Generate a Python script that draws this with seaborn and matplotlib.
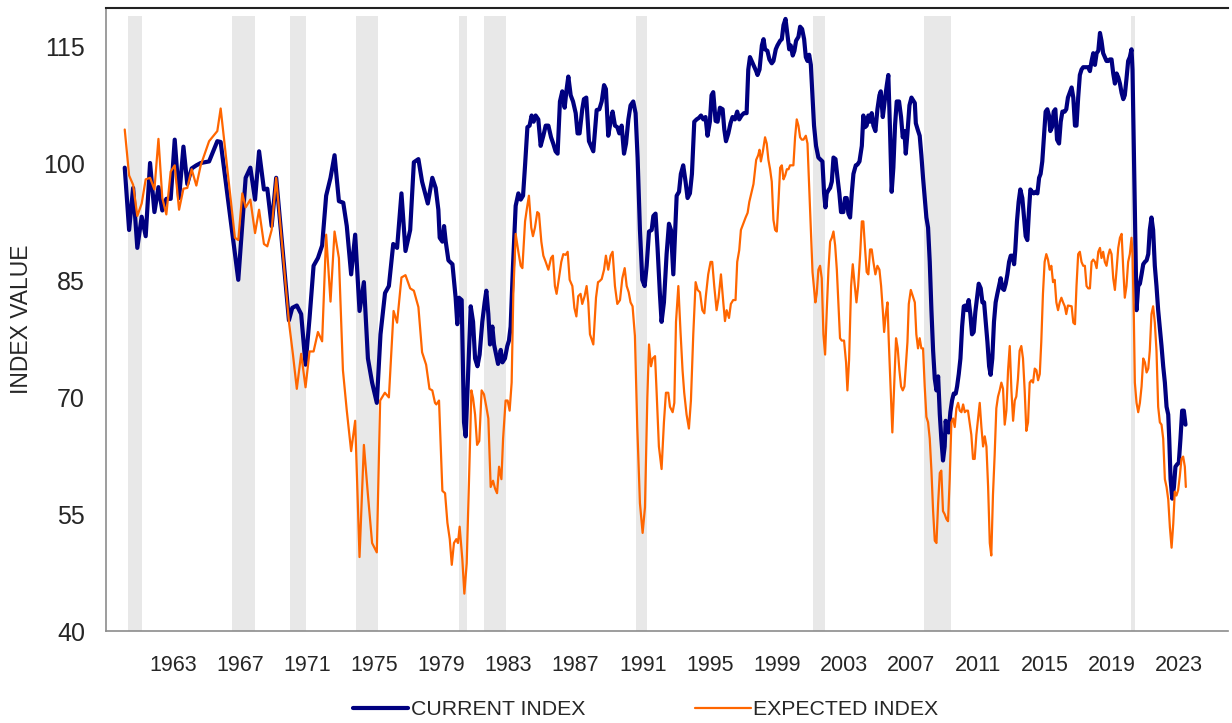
import matplotlib
matplotlib.use("Agg")
import matplotlib.pyplot as plt
import pandas as pd
import seaborn as sns

# values (decimal year, index value)
current_years = [
    1960.12, 1960.38, 1960.62, 1960.87, 1961.13, 1961.37, 1961.63, 1961.89, 1962.13, 1962.36,
    1962.60, 1962.86, 1963.10, 1963.36, 1963.62, 1963.85, 1964.11, 1964.39, 1964.65, 1965.15,
    1965.64, 1965.84, 1966.89, 1967.33, 1967.61, 1967.89, 1968.13, 1968.42, 1968.62, 1968.88,
    1969.15, 1969.91, 1970.11, 1970.38, 1970.64, 1970.90, 1971.14, 1971.38, 1971.64, 1971.89,
    1972.13, 1972.39, 1972.63, 1972.89, 1973.15, 1973.36, 1973.62, 1973.86, 1974.12, 1974.38,
    1974.62, 1974.87, 1975.15, 1975.37, 1975.64, 1975.87, 1976.13, 1976.36, 1976.62, 1976.86,
    1977.14, 1977.36, 1977.63, 1977.85, 1978.19,
    1978.46, 1978.66, 1978.82, 1978.90, 1979.06, 1979.16, 1979.26, 1979.42, 1979.66, 1979.85,
    1979.95, 1980.05, 1980.21, 1980.35, 1980.45, 1980.61, 1980.75, 1980.89, 1981.01, 1981.15,
    1981.28, 1981.44, 1981.58, 1981.68, 1981.80, 1981.90, 1982.04, 1982.14, 1982.28, 1982.38,
    1982.54, 1982.64, 1982.79, 1982.93, 1983.03, 1983.13, 1983.27, 1983.43, 1983.59, 1983.73,
    1983.87, 1983.99, 1984.13, 1984.26, 1984.38, 1984.50, 1984.62, 1984.78, 1984.92, 1985.08,
    1985.22, 1985.38, 1985.54, 1985.67, 1985.81, 1985.93, 1986.07, 1986.21, 1986.35, 1986.47,
    1986.57, 1986.71, 1986.85, 1987.01, 1987.12, 1987.24, 1987.40, 1987.50, 1987.64, 1987.80,
    1988.06, 1988.26, 1988.42, 1988.56, 1988.70, 1988.81, 1988.95, 1989.09, 1989.21, 1989.35,
    1989.49, 1989.61, 1989.75, 1989.89, 1990.01, 1990.15, 1990.28, 1990.44, 1990.58, 1990.70,
    1990.84, 1990.98, 1991.12, 1991.24, 1991.38, 1991.54, 1991.64, 1991.77, 1991.89, 1992.03,
    1992.13, 1992.27, 1992.43, 1992.57, 1992.69, 1992.83, 1992.95, 1993.03, 1993.17, 1993.28,
    1993.42, 1993.56, 1993.68, 1993.82, 1993.94, 1994.08, 1994.22, 1994.36, 1994.48, 1994.62,
    1994.75, 1994.87, 1995.01, 1995.11, 1995.21, 1995.35, 1995.47, 1995.61, 1995.77, 1995.87,
    1995.97, 1996.11, 1996.24, 1996.36, 1996.50, 1996.64, 1996.76, 1996.90, 1997.04, 1997.20,
    1997.30, 1997.40,
    1997.77, 1997.85, 1997.97, 1998.11, 1998.21, 1998.30, 1998.44, 1998.56, 1998.70, 1998.80,
    1998.94, 1999.04, 1999.20, 1999.30, 1999.40, 1999.52, 1999.64, 1999.74, 1999.83, 1999.95,
    2000.05, 2000.15, 2000.29, 2000.39, 2000.51, 2000.63, 2000.73, 2000.83, 2000.93, 2001.03,
    2001.13, 2001.22, 2001.34, 2001.48, 2001.62, 2001.72, 2001.82, 2001.90, 2001.98, 2002.08,
    2002.18, 2002.28, 2002.38, 2002.50, 2002.62, 2002.73, 2002.83, 2002.97, 2003.07, 2003.17,
    2003.27, 2003.37, 2003.47, 2003.57, 2003.71, 2003.81, 2003.93, 2004.07, 2004.16, 2004.26,
    2004.36, 2004.46, 2004.56, 2004.66, 2004.76, 2004.88, 2005.00, 2005.12, 2005.20, 2005.32,
    2005.46, 2005.56, 2005.65, 2005.75, 2005.85, 2005.95, 2006.05, 2006.15, 2006.29, 2006.41,
    2006.51, 2006.61, 2006.69, 2006.79, 2006.91, 2007.03,
    2007.23, 2007.29, 2007.40, 2007.52, 2007.62, 2007.72, 2007.82, 2007.92, 2008.02, 2008.12,
    2008.22, 2008.32, 2008.42, 2008.52, 2008.62, 2008.72, 2008.81, 2008.91, 2009.01, 2009.07,
    2009.15, 2009.25, 2009.35, 2009.45, 2009.55, 2009.67, 2009.75, 2009.85, 2009.95, 2010.05,
    2010.15, 2010.25, 2010.34, 2010.44, 2010.54, 2010.64, 2010.74, 2010.84, 2010.94, 2011.04,
    2011.16, 2011.26, 2011.36, 2011.46, 2011.56, 2011.66, 2011.75, 2011.85, 2011.95, 2012.05,
    2012.15, 2012.25, 2012.35, 2012.45, 2012.55, 2012.65, 2012.75, 2012.85, 2012.95, 2013.05,
    2013.15, 2013.22, 2013.32, 2013.42, 2013.52, 2013.64, 2013.74, 2013.84, 2013.94, 2014.04,
    2014.12, 2014.22, 2014.32, 2014.44, 2014.54, 2014.64, 2014.73, 2014.83, 2014.93, 2015.03,
    2015.13, 2015.23, 2015.31, 2015.41, 2015.51, 2015.61, 2015.71, 2015.83, 2015.93, 2016.03,
    2016.17, 2016.26, 2016.36,
    2016.58, 2016.68, 2016.78, 2016.87, 2016.97, 2017.07, 2017.17, 2017.27, 2017.41, 2017.57,
    2017.67, 2017.77, 2017.87, 2017.97, 2018.07, 2018.17, 2018.27, 2018.36, 2018.46, 2018.56,
    2018.66, 2018.76, 2018.86, 2018.96, 2019.06, 2019.16, 2019.26, 2019.36, 2019.46, 2019.56,
    2019.66, 2019.75, 2019.85, 2019.95, 2020.05, 2020.15, 2020.21, 2020.45, 2020.55, 2020.65,
    2020.75, 2020.85, 2020.95, 2021.05, 2021.15, 2021.24, 2021.34, 2021.44, 2021.54, 2021.64,
    2021.74, 2021.84, 2021.94, 2022.04, 2022.14, 2022.24, 2022.34, 2022.40, 2022.48, 2022.58,
    2022.68, 2022.77, 2022.87, 2022.97, 2023.07, 2023.17, 2023.27, 2023.37,
]
current_values = [
    99.5, 91.5, 96.9, 89.2, 93.2, 90.7, 100.1, 93.8, 97.0, 94.0,
    95.5, 95.5, 103.1, 95.6, 102.2, 97.4, 99.4, 99.8, 100.1, 100.3,
    102.9, 102.8, 85.1, 98.2, 99.5, 95.4, 101.6, 96.7, 96.8, 92.0,
    98.2, 79.9, 81.5, 81.8, 80.7, 74.2, 80.2, 86.9, 87.9, 89.5,
    95.9, 98.2, 101.1, 95.2, 95.0, 92.0, 85.8, 90.9, 81.1, 84.8,
    75.0, 71.9, 69.3, 78.1, 83.4, 84.3, 89.7, 89.2, 96.2, 88.8,
    91.5, 100.2, 100.6, 97.7, 94.9,
    98.2, 96.9, 94.1, 90.5, 90.0, 92.0, 90.0, 87.6, 87.1, 82.8,
    79.4, 82.8, 82.5, 66.8, 65.0, 74.0, 81.7, 79.7, 75.0, 74.0,
    75.5, 79.7, 82.2, 83.7, 80.7, 76.8, 79.1, 76.8, 75.3, 74.3,
    76.1, 74.5, 75.0, 76.6, 77.3, 79.1, 86.9, 94.6, 96.2, 95.4,
    95.9, 99.8, 104.7, 104.9, 106.2, 105.4, 106.2, 105.7, 102.3, 103.6,
    104.9, 104.9, 103.4, 102.6, 101.6, 101.3, 108.0, 109.3, 107.2, 109.6,
    111.2, 108.8, 108.0, 106.5, 103.9, 103.9, 107.0, 108.3, 108.5, 102.9,
    101.6, 106.9, 107.0, 108.0, 110.1, 109.6, 103.6, 105.4, 106.7, 104.9,
    104.7, 103.9, 104.9, 101.3, 102.6, 105.7, 107.5, 108.0, 106.5, 100.8,
    91.5, 85.1, 84.3, 86.9, 91.3, 91.5, 93.3, 93.6, 89.2, 83.3,
    79.7, 82.2, 88.4, 92.3, 91.5, 85.8, 92.0, 95.9, 96.4, 98.7,
    99.8, 97.7, 95.6, 96.2, 98.7, 105.4, 105.7, 105.9, 106.2, 105.7,
    106.0, 103.6, 105.4, 108.8, 109.2, 105.5, 105.4, 107.2, 107.0, 104.4,
    102.9, 103.9, 105.2, 106.0, 105.7, 106.7, 105.7, 106.2, 106.5, 106.5,
    112.1, 113.7,
    111.9, 111.4, 112.1, 115.2, 116.0, 114.7, 114.5, 113.4, 112.9, 113.2,
    114.7, 115.2, 115.8, 116.0, 117.8, 118.6, 116.5, 114.7, 115.2, 113.9,
    114.5, 115.8, 116.3, 117.6, 117.3, 116.0, 113.7, 113.2, 114.0, 112.7,
    108.5, 104.9, 102.3, 100.8, 100.5, 100.3, 96.2, 94.4, 96.2, 96.6,
    96.9, 97.7, 100.8, 100.6, 98.2, 96.2, 93.8, 93.8, 95.6, 95.6,
    93.6, 93.1, 96.2, 98.7, 99.8, 99.9, 100.3, 102.3, 106.2, 104.7,
    104.9, 106.2, 105.4, 106.5, 104.9, 104.2, 107.0, 108.8, 109.3, 106.0,
    108.5, 110.1, 111.4, 104.4, 96.4, 99.5, 104.9, 108.0, 108.0, 106.0,
    103.4, 104.2, 101.3, 103.9, 107.5, 108.5,
    107.8, 105.2, 104.4, 103.6, 101.1, 98.2, 95.6, 93.1, 91.8, 87.4,
    81.2, 76.0, 72.4, 70.9, 72.7, 67.8, 64.7, 61.9, 63.7, 67.0,
    65.7, 65.5, 68.1, 69.6, 70.5, 70.5, 71.4, 73.0, 75.0, 79.1,
    81.7, 81.8, 81.2, 82.5, 80.7, 78.1, 78.4, 81.0, 82.8, 84.6,
    84.0, 82.2, 82.2, 79.7, 77.1, 74.0, 72.9, 75.0, 79.7, 82.2,
    83.3, 84.3, 85.3, 84.0, 83.8, 84.6, 85.8, 87.4, 88.2, 88.2,
    87.1, 88.9, 92.6, 95.1, 96.7, 95.6, 93.1, 90.7, 90.2, 94.1,
    96.7, 96.4, 96.2, 96.4, 96.2, 98.2, 98.7, 100.3, 103.4, 106.7,
    107.0, 106.2, 104.2, 104.7, 106.7, 107.0, 103.1, 102.6, 105.4, 106.7,
    106.7, 107.0, 108.5,
    109.8, 108.5, 104.9, 104.9, 108.5, 111.4, 112.1, 112.4, 112.4, 112.4,
    111.9, 113.2, 114.2, 112.7, 114.2, 114.5, 116.8, 115.8, 114.2, 113.7,
    113.2, 113.2, 113.4, 113.4, 111.6, 110.3, 111.6, 111.1, 110.3, 109.1,
    108.3, 108.8, 110.9, 113.2, 113.7, 114.7, 112.1, 81.2, 84.3, 84.6,
    85.8, 87.1, 87.4, 87.6, 88.4, 91.5, 93.1, 91.5, 86.9, 84.3,
    81.2, 78.9, 76.6, 74.0, 71.9, 68.8, 67.8, 64.7, 59.5, 57.0,
    58.5, 61.1, 61.4, 61.6, 64.7, 68.3, 68.3, 66.5,
]

expected_years = [
    1960.12, 1960.38, 1960.62, 1960.87, 1961.13, 1961.37, 1961.63, 1961.89, 1962.13, 1962.36,
    1962.60, 1962.86, 1963.10, 1963.36, 1963.62, 1963.85, 1964.11, 1964.39, 1964.65, 1965.15,
    1965.64, 1965.84, 1966.69, 1966.89, 1967.13, 1967.33, 1967.61, 1967.89, 1968.13, 1968.42,
    1968.62, 1968.88,
    1969.15, 1969.91, 1970.15, 1970.38, 1970.64, 1970.90, 1971.14, 1971.38, 1971.64, 1971.89,
    1972.13, 1972.39, 1972.63, 1972.89, 1973.13, 1973.36, 1973.62, 1973.86, 1974.12, 1974.38,
    1974.62, 1974.87, 1975.15, 1975.35, 1975.63, 1975.87, 1976.15, 1976.36, 1976.62, 1976.86,
    1977.14, 1977.36, 1977.63, 1977.85, 1978.09, 1978.29,
    1978.46, 1978.62, 1978.70, 1978.86, 1979.06, 1979.22, 1979.36, 1979.50, 1979.62, 1979.75,
    1979.89, 1979.99, 1980.09, 1980.25, 1980.37, 1980.51, 1980.65, 1980.79, 1980.89, 1981.01,
    1981.13, 1981.26, 1981.40, 1981.54, 1981.68, 1981.80, 1981.94, 1982.08, 1982.20, 1982.32,
    1982.44, 1982.58, 1982.68, 1982.83, 1982.95, 1983.07, 1983.19, 1983.29, 1983.43, 1983.59,
    1983.73, 1983.83, 1983.99, 1984.11, 1984.22, 1984.36, 1984.46, 1984.58, 1984.72, 1984.82,
    1984.96, 1985.08, 1985.22, 1985.38, 1985.54, 1985.65, 1985.77, 1985.87, 1986.01, 1986.15,
    1986.27, 1986.41, 1986.53, 1986.65, 1986.81, 1986.93, 1987.05, 1987.16, 1987.30, 1987.40,
    1987.54, 1987.66, 1987.76, 1987.86,
    1988.06, 1988.22, 1988.34, 1988.42, 1988.56, 1988.70, 1988.81, 1988.95, 1989.09, 1989.21,
    1989.35, 1989.49, 1989.65, 1989.79, 1989.93, 1990.05, 1990.17, 1990.28, 1990.40, 1990.54,
    1990.68, 1990.84, 1991.00, 1991.14, 1991.28, 1991.38, 1991.50, 1991.60, 1991.74, 1991.83,
    1991.97, 1992.13, 1992.27, 1992.39, 1992.53, 1992.63, 1992.79, 1992.89, 1992.99, 1993.13,
    1993.26, 1993.38, 1993.48, 1993.62, 1993.76, 1993.88, 1994.02, 1994.16, 1994.28, 1994.42,
    1994.56, 1994.68, 1994.77, 1994.91, 1995.05, 1995.15, 1995.27, 1995.41, 1995.53, 1995.67,
    1995.81, 1995.91, 1996.01, 1996.15, 1996.26, 1996.40, 1996.54, 1996.64, 1996.76, 1996.86,
    1997.00, 1997.14, 1997.26, 1997.36,
    1997.61, 1997.77, 1997.89, 1997.97, 1998.05, 1998.17, 1998.30, 1998.40, 1998.50, 1998.60,
    1998.70, 1998.80, 1998.90, 1999.00, 1999.10, 1999.20, 1999.30, 1999.40, 1999.50, 1999.60,
    1999.70, 1999.79, 1999.99, 2000.09, 2000.19, 2000.29, 2000.39, 2000.49, 2000.59, 2000.73,
    2000.83, 2000.93, 2001.03, 2001.13, 2001.22, 2001.30, 2001.38, 2001.48, 2001.58, 2001.68,
    2001.78, 2001.88, 2001.98, 2002.08, 2002.18, 2002.28, 2002.38, 2002.48, 2002.58, 2002.67,
    2002.77, 2002.87, 2003.01, 2003.13, 2003.21, 2003.31, 2003.43, 2003.53, 2003.63, 2003.75,
    2003.85, 2003.97, 2004.07, 2004.16, 2004.26, 2004.36, 2004.46, 2004.56, 2004.66, 2004.76,
    2004.88, 2005.00, 2005.12, 2005.22, 2005.32, 2005.40, 2005.50, 2005.60, 2005.67, 2005.79,
    2005.89, 2005.99, 2006.11, 2006.21, 2006.31, 2006.41, 2006.51, 2006.61, 2006.71, 2006.79,
    2006.87, 2006.99,
    2007.23, 2007.32, 2007.42, 2007.52, 2007.62, 2007.72, 2007.82, 2007.92, 2008.02, 2008.12,
    2008.22, 2008.32, 2008.42, 2008.52, 2008.62, 2008.72, 2008.81, 2008.91, 2009.01, 2009.11,
    2009.21, 2009.31, 2009.41, 2009.51, 2009.61, 2009.71, 2009.81, 2009.91, 2010.01, 2010.11,
    2010.21, 2010.30, 2010.40, 2010.50, 2010.60, 2010.70, 2010.80, 2010.90, 2011.00, 2011.10,
    2011.20, 2011.30, 2011.40, 2011.50, 2011.60, 2011.70, 2011.79, 2011.89, 2011.99, 2012.09,
    2012.19, 2012.29, 2012.39, 2012.49, 2012.59, 2012.69, 2012.79, 2012.89, 2012.99, 2013.09,
    2013.19, 2013.28, 2013.38, 2013.48, 2013.58, 2013.68, 2013.78, 2013.88, 2013.98, 2014.08,
    2014.18, 2014.28, 2014.38, 2014.48, 2014.58, 2014.68, 2014.77, 2014.87, 2014.97, 2015.07,
    2015.17, 2015.27, 2015.37, 2015.47, 2015.57, 2015.67, 2015.77, 2015.87, 2015.97, 2016.07,
    2016.17, 2016.26, 2016.36,
    2016.58, 2016.68, 2016.78, 2016.87, 2016.97, 2017.07, 2017.17, 2017.27, 2017.37, 2017.47,
    2017.57, 2017.67, 2017.77, 2017.87, 2017.97, 2018.07, 2018.17, 2018.27, 2018.36, 2018.46,
    2018.56, 2018.66, 2018.76, 2018.86, 2018.96, 2019.06, 2019.16, 2019.26, 2019.36, 2019.46,
    2019.56, 2019.66, 2019.75, 2019.85, 2019.95, 2020.05, 2020.15, 2020.21, 2020.29, 2020.35,
    2020.45, 2020.55, 2020.65, 2020.75, 2020.85, 2020.95, 2021.05, 2021.15, 2021.24, 2021.34,
    2021.44, 2021.54, 2021.64, 2021.74, 2021.84, 2021.94, 2022.04, 2022.14, 2022.24, 2022.34,
    2022.44, 2022.54, 2022.64, 2022.73, 2022.83, 2022.93, 2023.03, 2023.13, 2023.23, 2023.33,
    2023.39,
]
expected_values = [
    104.4, 98.5, 97.3, 93.3, 94.9, 98.0, 98.2, 96.7, 103.2, 95.6,
    93.5, 99.0, 99.8, 94.1, 96.8, 96.9, 99.3, 97.2, 99.8, 102.9,
    104.2, 107.1, 90.5, 90.2, 96.2, 94.4, 95.4, 91.1, 94.1, 89.7,
    89.4, 91.5,
    98.2, 79.7, 75.5, 71.1, 75.6, 71.3, 75.9, 75.9, 78.4, 77.2,
    90.9, 82.3, 91.3, 87.9, 73.5, 68.3, 63.1, 67.0, 49.5, 63.9,
    57.5, 51.3, 50.1, 69.6, 70.6, 70.0, 81.1, 79.6, 85.4, 85.7,
    84.0, 83.7, 81.6, 75.8, 74.2, 71.1,
    70.9, 69.3, 69.1, 69.6, 58.0, 57.7, 53.9, 51.8, 48.5, 51.3,
    51.8, 51.3, 53.4, 49.2, 44.8, 48.7, 59.5, 70.9, 69.9, 67.8,
    63.9, 64.4, 70.9, 70.4, 68.8, 67.3, 58.5, 59.3, 58.3, 57.7,
    61.1, 59.5, 64.7, 69.6, 69.6, 68.3, 71.9, 83.3, 91.0, 88.7,
    86.9, 86.6, 92.6, 94.4, 95.9, 91.8, 90.7, 91.8, 93.8, 93.6,
    90.0, 88.2, 87.4, 86.4, 87.9, 88.2, 84.3, 83.3, 85.3, 87.4,
    88.4, 88.3, 88.7, 85.1, 84.3, 81.5, 80.4, 83.0, 83.3, 82.0,
    83.0, 84.3, 82.2, 78.1,
    76.8, 82.8, 84.8, 84.9, 85.2, 86.4, 88.2, 86.4, 88.2, 88.7,
    84.3, 82.0, 82.5, 85.3, 86.6, 84.3, 83.5, 82.2, 81.7, 77.9,
    66.2, 56.4, 52.6, 55.9, 69.9, 76.8, 74.0, 75.0, 75.3, 70.9,
    63.7, 60.8, 66.8, 70.6, 70.6, 68.8, 68.1, 69.3, 79.7, 84.3,
    78.4, 73.5, 70.6, 67.8, 66.0, 69.6, 78.1, 84.8, 83.8, 83.5,
    81.2, 80.8, 83.0, 85.8, 87.4, 87.4, 84.3, 81.2, 82.8, 85.8,
    82.2, 79.8, 81.2, 80.2, 82.0, 82.5, 82.5, 87.4, 88.9, 91.5,
    92.3, 93.1, 93.7, 95.1,
    97.4, 100.5, 101.1, 101.8, 100.3, 101.6, 103.4, 102.6, 100.5, 99.3,
    97.7, 92.8, 91.5, 91.3, 95.1, 99.5, 99.8, 98.0, 98.5, 99.3,
    99.3, 99.8, 99.8, 103.4, 105.7, 104.9, 103.4, 103.1, 103.1, 103.6,
    102.6, 97.2, 92.0, 86.1, 84.0, 82.2, 83.3, 86.4, 86.9, 85.3,
    78.1, 75.5, 81.2, 86.4, 90.0, 90.5, 91.3, 89.5, 86.4, 82.2,
    77.6, 77.3, 77.3, 74.5, 70.9, 74.8, 84.3, 87.1, 84.8, 82.2,
    84.3, 88.4, 92.6, 92.6, 89.2, 86.1, 85.8, 89.0, 89.0, 87.4,
    85.8, 86.9, 86.4, 84.3, 81.2, 78.4, 80.7, 82.2, 77.6, 70.9,
    65.5, 70.9, 77.6, 76.3, 73.5, 71.4, 70.9, 71.4, 74.5, 77.1,
    82.0, 83.8,
    82.2, 78.1, 76.3, 77.6, 76.3, 76.3, 71.4, 67.5, 66.8, 64.7,
    60.6, 55.4, 51.6, 51.3, 56.4, 60.3, 60.6, 55.4, 55.0, 54.4,
    54.1, 59.5, 66.8, 67.3, 66.2, 68.6, 69.3, 68.3, 68.1, 69.1,
    68.1, 68.3, 68.3, 66.8, 65.2, 62.1, 62.1, 65.2, 67.3, 69.3,
    66.2, 63.7, 65.0, 63.7, 58.5, 51.3, 49.7, 57.5, 62.6, 68.6,
    70.1, 70.9, 71.9, 71.1, 66.5, 68.3, 73.5, 76.6, 70.9, 67.0,
    69.6, 70.1, 72.4, 76.0, 76.6, 75.0, 70.9, 65.7, 66.8, 71.9,
    72.2, 71.9, 73.7, 73.5, 72.2, 73.0, 77.1, 83.3, 87.4, 88.4,
    87.7, 86.4, 86.9, 84.8, 85.1, 82.2, 81.2, 82.2, 82.8, 82.2,
    81.7, 80.7, 81.8,
    81.7, 79.6, 79.4, 84.3, 88.4, 88.7, 87.4, 86.9, 86.9, 84.3,
    84.0, 84.0, 87.4, 87.7, 87.4, 86.6, 88.7, 89.2, 87.9, 88.7,
    87.4, 86.9, 88.2, 89.0, 88.4, 85.3, 83.8, 86.4, 89.2, 90.5,
    91.0, 86.4, 82.8, 84.3, 87.4, 88.4, 90.5, 88.4, 80.2, 71.9,
    69.3, 68.1, 69.3, 71.4, 75.0, 74.5, 73.2, 73.7, 76.0, 80.7,
    81.7, 79.6, 76.0, 68.8, 66.8, 66.5, 64.7, 59.5, 58.5, 56.9,
    53.3, 50.7, 53.8, 57.9, 57.4, 58.1, 59.9, 62.1, 62.4, 61.1,
    58.5,
]

# shaded periods (start, end) in decimal years
recessions = [
    (1960.30, 1961.15), (1966.50, 1967.87), (1970.00, 1970.92), (1973.92, 1975.24),
    (1980.05, 1980.55), (1981.55, 1982.85), (1990.60, 1991.25), (2001.15, 2001.90),
    (2007.78, 2009.37), (2020.10, 2020.33),
]

x_ticks = list(range(1963, 2024, 4))
y_ticks = [40, 55, 70, 85, 100, 115]

sns.set_style("white")
plt.rcParams["font.family"] = ["Liberation Sans", "DejaVu Sans"]

fig = plt.figure(figsize=(12.32, 7.23), dpi=100)
ax = fig.add_axes([0.0860, 0.1272, 0.9107, 0.8617])

for start, end in recessions:
    ax.axvspan(start, end, ymin=0, ymax=0.9875, color="#e8e8e8", lw=0, zorder=0)

cur = pd.DataFrame({"year": current_years, "value": current_values})
exp = pd.DataFrame({"year": expected_years, "value": expected_values})

sns.lineplot(data=cur, x="year", y="value", ax=ax, color="#000080", lw=3.0,
             label="CURRENT INDEX", estimator=None, sort=False, zorder=2)
sns.lineplot(data=exp, x="year", y="value", ax=ax, color="#ff6600", lw=1.6,
             label="EXPECTED INDEX", estimator=None, sort=False, zorder=3)

ax.set_xlim(1959.0, 2025.9)
ax.set_ylim(40, 120)
ax.set_xticks(x_ticks)
ax.set_xticklabels([str(y) for y in x_ticks])
ax.set_yticks(y_ticks)
ax.set_xlabel("")
ax.set_ylabel("INDEX VALUE", fontsize=16.5)
ax.yaxis.set_label_coords(-0.065, 0.5)

ax.tick_params(axis="x", direction="out", length=5, width=1, color="#808080",
               labelsize=15.5, pad=12)
ax.tick_params(axis="y", direction="out", length=5, width=1, color="#808080",
               labelsize=18, pad=10)

for side in ["left", "bottom"]:
    ax.spines[side].set_color("#8c8c8c")
    ax.spines[side].set_linewidth(1.2)
ax.spines["top"].set_color("#222222")
ax.spines["top"].set_linewidth(1.5)
ax.spines["right"].set_visible(False)

handles, labels = ax.get_legend_handles_labels()
ax.get_legend().remove()
fig.legend(handles, labels, loc="center", bbox_to_anchor=(0.524, 0.018), ncol=2,
           frameon=False, fontsize=15.3, handlelength=2.6, handletextpad=0.1,
           columnspacing=5.2)

fig.savefig("out.png", dpi=100)
